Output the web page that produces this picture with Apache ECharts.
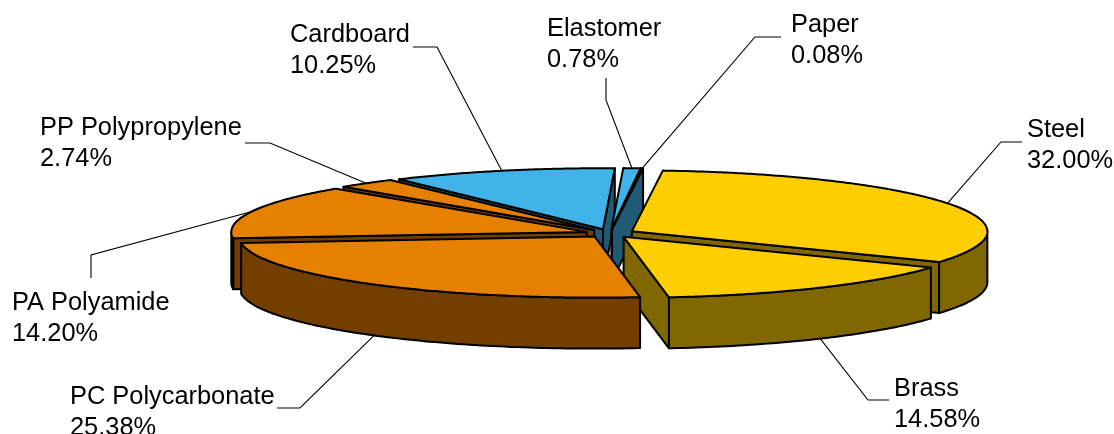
<!DOCTYPE html>
<html>
<head>
<meta charset="utf-8">
<style>html,body{margin:0;padding:0;background:#fff}#c{width:1114px;height:434px}</style>
<script src="https://cdn.jsdelivr.net/npm/echarts@6/dist/echarts.min.js"></script>
</head>
<body>
<div id="c"></div>
<script>
// data, clockwise from the first slice
var categories = ['Steel','Brass','PC Polycarbonate','PA Polyamide','PP Polypropylene','Cardboard','Elastomer','Paper'];
var shares = [32.00,14.58,25.38,14.20,2.74,10.25,0.78,0.08];
var percentLabels = ['32.00%','14.58%','25.38%','14.20%','2.74%','10.25%','0.78%','0.08%'];

// styles and layout
var topColors  = ['#FFCE00','#FFCE00','#E68000','#E68000','#E68000','#40B4E8','#40B4E8','#40B4E8'];
var wallColors = ['#806700','#806700','#733F00','#733F00','#733F00','#205A74','#205A74','#205A74'];
var paintRank  = [5,6,7,4,3,0,1,2];
var labelAnchors = [[1027,114],[894,373],[70,381],[12,287],[40,112],[290,19],[547,13],[791,9]];
var elbows = [
  [[1001,142],[1022,142]],
  [[868,400],[889,400]],
  [[300,408],[277,408]],
  [[91,255],[91,278]],
  [[270,143],[245,143]],
  [[437,47],[413,47]],
  [[606,100],[606,78]],
  [[755,37],[781,37]]
];
var pie = {cx:610, cy:233.3, rx:355.5, ry:61, depth:51, explode:24.6, start:5};

var total = shares.reduce(function(a,b){return a+b;},0);
var spans = [], acc = pie.start;
shares.forEach(function(v){ var d = v/total*360; spans.push([acc,acc+d]); acc += d; });
function rad(d){return d*Math.PI/180;}

function renderItem(params, api){
  var i = params.dataIndex;
  var a0 = spans[i][0], a1 = spans[i][1], mid = (a0+a1)/2;
  var ex = pie.explode*Math.sin(rad(mid)), ey = -pie.explode*pie.ry/pie.rx*Math.cos(rad(mid));
  var A = [pie.cx+ex, pie.cy+ey];
  function P(t){ return [A[0]+pie.rx*Math.sin(rad(t)), A[1]-pie.ry*Math.cos(rad(t))]; }
  function down(p){ return [p[0],p[1]+pie.depth]; }
  var base = paintRank[i]*10, kids = [];
  function poly(points, fill, z){
    kids.push({type:'polygon', z2:base+z, shape:{points:points},
      style:{fill:fill, stroke:'#000', lineWidth:2, lineJoin:'round'}});
  }
  // radial walls, only where they face the viewer
  var M = P(mid);
  [a0,a1].forEach(function(t){
    var p = P(t), ex2 = p[0]-A[0], ey2 = p[1]-A[1];
    var n = [-ey2, ex2];
    if (n[0]*(M[0]-A[0])+n[1]*(M[1]-A[1]) > 0) n = [ey2,-ex2];
    if (n[1] > 0) poly([A,p,down(p),down(A)], wallColors[i], 1);
  });
  // outer wall on the near half of the ellipse
  var ranges = [[90,270],[450,630]];
  ranges.forEach(function(r){
    var s = Math.max(a0,r[0]), e = Math.min(a1,r[1]);
    if (e > s){
      var up = [], lo = [];
      for (var t=s; t<e; t+=1){ up.push(P(t)); lo.push(down(P(t))); }
      up.push(P(e)); lo.push(down(P(e)));
      poly(up.concat(lo.reverse()), wallColors[i], 2);
    }
  });
  // top face
  var pts = [A];
  for (var t=a0; t<a1; t+=0.5) pts.push(P(t));
  pts.push(P(a1));
  poly(pts, topColors[i], 3);
  // leader line, from the middle of the slice's rim
  var st = M.slice();
  if (Math.cos(rad(mid)) < 0) st = down(st);
  kids.push({type:'polyline', z2:200, shape:{points:[st].concat(elbows[i])},
    style:{fill:'none', stroke:'#000', lineWidth:1.1}});
  // label
  kids.push({type:'text', z2:210, x:labelAnchors[i][0], y:labelAnchors[i][1],
    style:{text:categories[i]+'\n'+percentLabels[i],
      font:'25.4px "Liberation Sans", Arial, sans-serif', lineHeight:31.5, fill:'#000', align:'left', verticalAlign:'top'}});
  return {type:'group', children:kids};
}

var chart = echarts.init(document.getElementById('c'), null, {renderer:'canvas'});
chart.setOption({
  animation:false,
  backgroundColor:'#fff',
  series:[{
    type:'custom',
    coordinateSystem:'none',
    clip:false,
    silent:true,
    renderItem:renderItem,
    data:categories.map(function(n,i){return {name:n, value:[i,shares[i]]};})
  }]
});
</script>
</body>
</html>
